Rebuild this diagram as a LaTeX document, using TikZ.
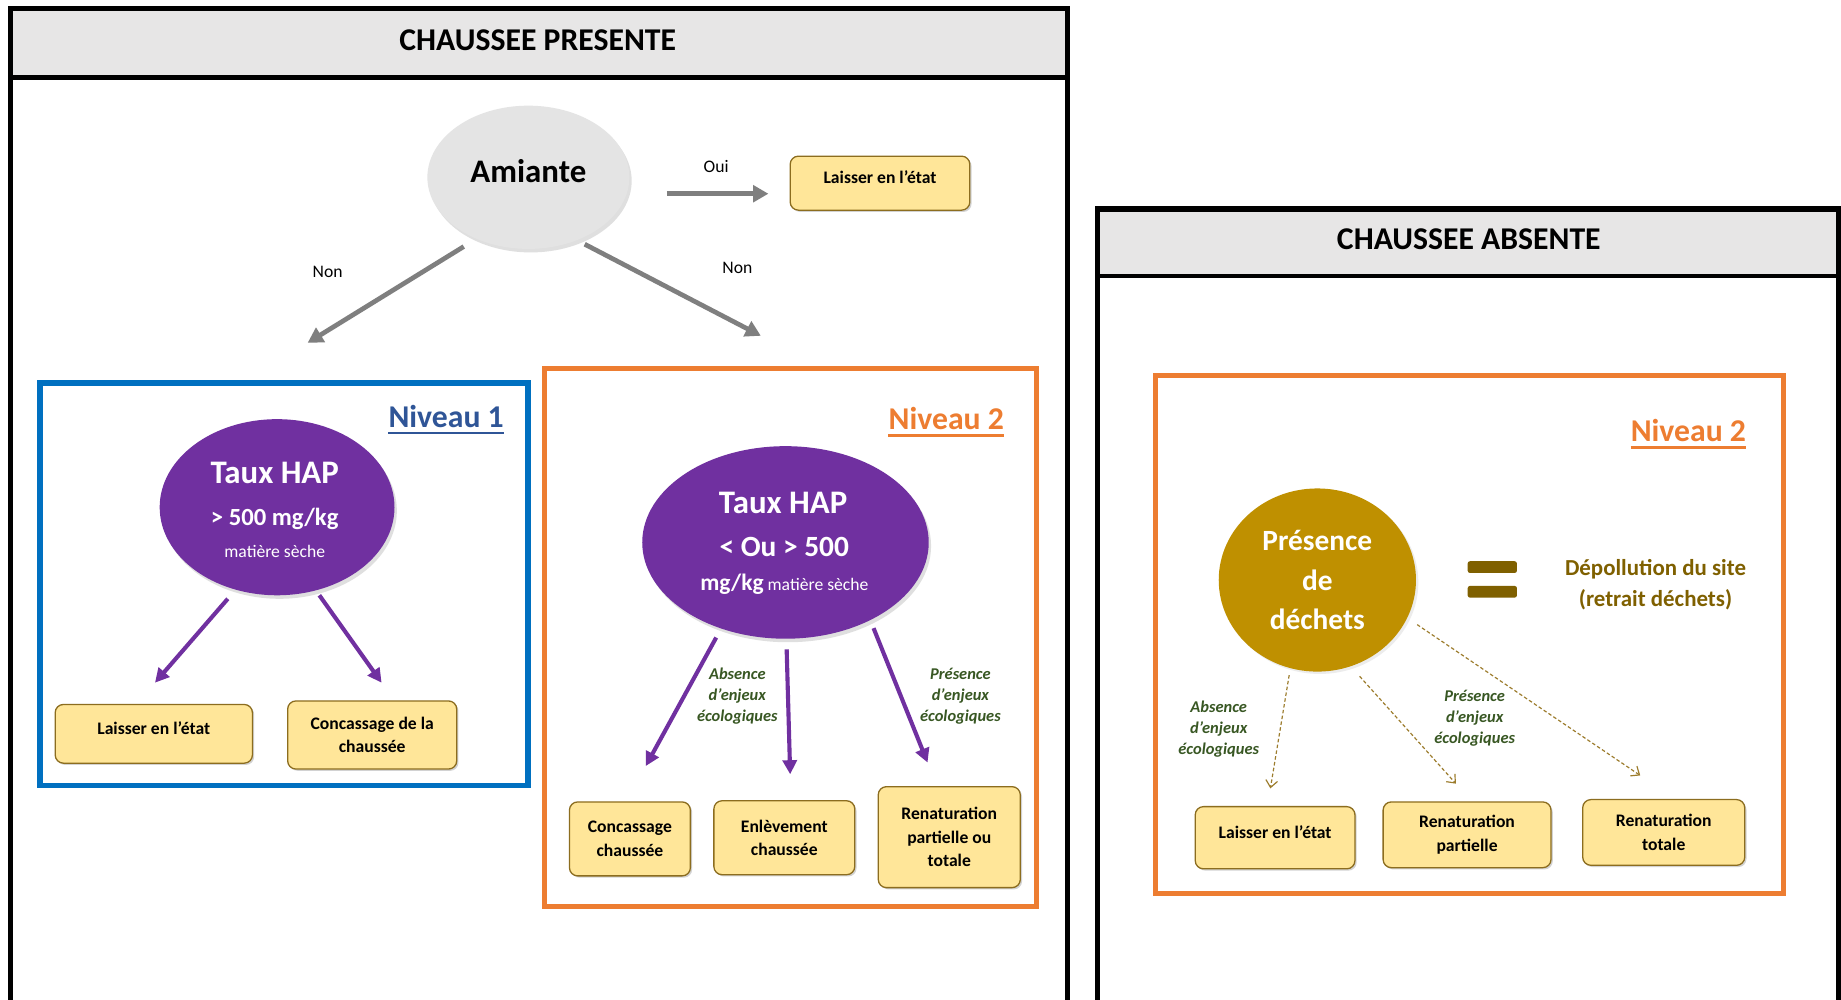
\documentclass[tikz,border=0pt]{standalone}
\usepackage{fontspec}
\setmainfont{Carlito}
\usetikzlibrary{arrows.meta,shadows,shapes.geometric,calc}
\definecolor{hdrgray}{HTML}{E7E6E6}
\definecolor{amigray}{HTML}{E4E4E4}
\definecolor{boxfill}{HTML}{FFE699}
\definecolor{boxedge}{HTML}{8C6D1F}
\definecolor{nblue}{HTML}{0070C0}
\definecolor{nbluetext}{HTML}{2F5597}
\definecolor{norange}{HTML}{ED7D31}
\definecolor{npurple}{HTML}{7030A0}
\definecolor{dgold}{HTML}{BF9000}
\definecolor{dbrown}{HTML}{7F6000}
\definecolor{dgreen}{HTML}{385723}
\definecolor{arrgray}{HTML}{7F7F7F}
\definecolor{dasharr}{HTML}{9C7C2C}
\tikzset{
 frame/.style={draw=black, line width=4.5pt},
 ybox/.style={draw=boxedge, line width=1.1pt, fill=boxfill, rounded corners=7pt, align=center, inner sep=2pt,
   font=\bfseries\fontsize{15}{20}\selectfont, drop shadow={opacity=0.35, shadow xshift=1.5pt, shadow yshift=-1.5pt}},
 oneline/.style={text height=11pt, text depth=10pt},
 ell/.style={ellipse, inner sep=0pt},
 eshadow/.style={drop shadow={opacity=0.25, shadow xshift=2pt, shadow yshift=-3pt}},
 grayarr/.style={draw=arrgray, line width=4pt, -{Triangle[length=13pt,width=14pt]}},
 purparr/.style={draw=npurple, line width=3.5pt, -{Triangle[length=12pt,width=12pt]}},
 dasharrow/.style={draw=dasharr, line width=1pt, dash pattern=on 3pt off 2pt, -{Straight Barb[length=6pt,width=10pt]}},
 lbl/.style={font=\fontsize{15}{18}\selectfont},
 eco/.style={text=dgreen, align=center, font=\bfseries\itshape\fontsize{14}{18}\selectfont},
 ttl/.style={font=\bfseries\fontsize{27}{30}\selectfont},
 niv/.style={font=\bfseries\fontsize{27}{30}\selectfont, anchor=base, inner sep=0pt},
 wt/.style={text=white, font=\bfseries\fontsize{28}{30}\selectfont},
}
\begin{document}
\begin{tikzpicture}[x=1pt,y=-1pt]
\clip (0,0) rectangle (1568,851);
\fill[white] (0,0) rectangle (1568,851);
% ---------- left panel
\fill[hdrgray] (9,7) rectangle (909,66);
\draw[frame] (9,7) rectangle (909,900);
\draw[line width=5pt] (9,66) -- (909,66);
\node[ttl] (tL) at (458,34) {CHAUSSEE PRESENTE};
% ---------- right panel
\fill[hdrgray] (935,178) rectangle (1566,235);
\draw[frame] (935,178) rectangle (1566,900);
\draw[line width=4pt] (935,235) -- (1566,235);
\node[ttl] (tR) at (1251,204) {CHAUSSEE ABSENTE};
% ---------- level frames
\draw[nblue, line width=5pt] (34,326) rectangle (450,669);
\draw[norange, line width=4.5pt] (464,314) rectangle (883,772);
\draw[norange, line width=4.5pt] (984,320) rectangle (1519,761);
\node[niv, text=nbluetext] (niv1) at (380,364) {Niveau 1};
\draw[nbluetext, line width=2pt] ($(niv1.base west)+(0,5)$) -- ($(niv1.base east)+(0,5)$);
\node[niv, text=norange] (niv2) at (806,366) {Niveau 2};
\draw[norange, line width=2pt] ($(niv2.base west)+(0,5)$) -- ($(niv2.base east)+(0,5)$);
\node[niv, text=norange] (niv3) at (1438,376) {Niveau 2};
\draw[norange, line width=2pt] ($(niv3.base west)+(0,5)$) -- ($(niv3.base east)+(0,5)$);
% ---------- amiante
\node[ell, fill=amigray, eshadow, minimum width=172, minimum height=122] (ami) at (450,151) {};
\node[font=\bfseries\fontsize{28}{30}\selectfont] (amit) at (450,146) {Amiante};
\node[ybox, oneline, minimum width=153, minimum height=46] (top) at (749.5,156) {Laisser en l’état};
\coordinate (nonLend) at (262,292);
\coordinate (nonRend) at (648,286);
\draw[grayarr] ($(ami)+(118,14)$) -- ($(top.west)+(-18,9)$);
\draw[grayarr] ($(ami)+(-55,59)$) -- (nonLend);
\draw[grayarr] ($(ami)+(48,57)$) -- (nonRend);
\node[lbl] at (610,142) {Oui};
\node[lbl] at (279,232) {Non};
\node[lbl] at (628,228) {Non};
% ---------- niveau 1
\node[ell, fill=npurple, eshadow, minimum width=200, minimum height=150] (hap1) at (236,432) {};
\node[wt] at (234,403) {Taux HAP};
\node[text=white, font=\bfseries\fontsize{21}{24}\selectfont] at (234,442) {> 500 mg/kg};
\node[text=white, font=\fontsize{15}{18}\selectfont] at (234,470) {matière sèche};
\node[ybox, oneline, minimum width=168, minimum height=50] (b11) at (131,625) {Laisser en l’état};
\node[ybox, minimum width=144, minimum height=58] (b12) at (317,626) {Concassage de la\\chaussée};
\draw[purparr] ($(hap1)+(-42,78)$) -- ($(b11.north)+(1,-18)$);
\draw[purparr] ($(hap1)+(36,75)$) -- ($(b12.north)+(8,-15)$);
% ---------- niveau 2 (left)
\node[ell, fill=npurple, eshadow, minimum width=244, minimum height=164] (hap2) at (669,462) {};
\node[wt] at (667,428) {Taux HAP};
\node[text=white, font=\bfseries\fontsize{25}{28}\selectfont] at (668,466) {< Ou > 500};
\node[text=white, font=\fontsize{15}{18}\selectfont] at (668,498) {{\bfseries\fontsize{20}{22}\selectfont mg/kg} matière sèche};
\node[ybox, minimum width=103, minimum height=63] (b21) at (536.5,714.5) {Concassage\\chaussée};
\node[ybox, minimum width=120, minimum height=63] (b22) at (668,713.5) {Enlèvement\\chaussée};
\node[ybox, minimum width=121, minimum height=86] (b23) at (808.5,713) {Renaturation\\partielle ou\\totale};
\draw[purparr] ($(hap2)+(-59,81)$) -- ($(b21.north)+(13.5,-30)$);
\draw[purparr] ($(hap2)+(1,91)$) -- ($(b22.north)+(5,-22)$);
\draw[purparr] ($(hap2)+(75,73)$) -- ($(b23.north)+(-18.5,-20)$);
\node[eco] at (628,593) {Absence\\d’enjeux\\écologiques};
\node[eco] at (818,593) {Présence\\d’enjeux\\écologiques};
% ---------- chaussee absente
\node[ell, fill=dgold, minimum width=168, minimum height=156, align=center, text=white,
  font=\bfseries\fontsize{25}{33.5}\selectfont, drop shadow={opacity=0.15, shadow xshift=2pt, shadow yshift=-2pt}] (dech) at (1122,494) {Présence\\de\\déchets};
\fill[dbrown, rounded corners=2pt] (1250,478) rectangle (1292,488);
\fill[dbrown, rounded corners=2pt] (1250,499) rectangle (1292,509);
\node[text=dbrown, align=center, font=\bfseries\fontsize{19.5}{26}\selectfont] (dep) at (1410,498) {Dépollution du site\\(retrait déchets)};
\node[ybox, oneline, minimum width=136, minimum height=53] (r1) at (1086,713.5) {Laisser en l’état};
\node[ybox, minimum width=143, minimum height=56] (r2) at (1249.5,711) {Renaturation\\partielle};
\node[ybox, minimum width=138, minimum height=56] (r3) at (1417,709) {Renaturation\\totale};
\draw[dasharrow] ($(dech)+(-24,81)$) -- ($(r1.north)+(-4,-15)$);
\draw[dasharrow] ($(dech)+(36,82)$) -- ($(r2.north)+(-9.5,-15)$);
\draw[dasharrow] ($(dech)+(85,38)$) -- ($(r3.north)+(-20,-20)$);
\node[eco] at (1038,621) {Absence\\d’enjeux\\écologiques};
\node[eco] at (1256,612) {Présence\\d’enjeux\\écologiques};
\end{tikzpicture}
\end{document}
